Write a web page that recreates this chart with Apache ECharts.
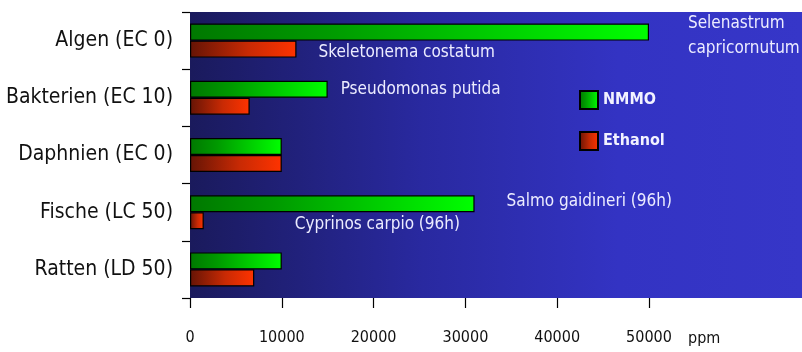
<!DOCTYPE html>
<html>
<head>
<meta charset="utf-8">
<script src="https://cdn.jsdelivr.net/npm/echarts@6/dist/echarts.min.js"></script>
<style>
  html, body { margin: 0; padding: 0; background: #ffffff; }
  #chart { width: 802px; height: 352px; }
</style>
</head>
<body>
<div id="chart"></div>
<script>
// Toxicity thresholds of NMMO and ethanol for several test organisms (ppm)
const categories = ['Algen (EC 0)', 'Bakterien (EC 10)', 'Daphnien (EC 0)', 'Fische (LC 50)', 'Ratten (LD 50)'];
const nmmoValues = [50000, 15000, 10000, 31000, 10000];
const ethanolValues = [11600, 6500, 10000, 1500, 7000];
const xTickValues = [0, 10000, 20000, 30000, 40000, 50000];
const unitLabel = 'ppm';

// Organism names written next to individual bars: [series, category index, text]
const organismNotes = [
  ['NMMO', 0, 'Selenastrum\ncapricornutum'],
  ['Ethanol', 0, 'Skeletonema costatum'],
  ['NMMO', 1, 'Pseudomonas putida'],
  ['NMMO', 3, 'Salmo gaidineri (96h)'],
  ['Ethanol', 3, 'Cyprinos carpio (96h)']
];
// label spacing for each note, same order as above
const noteLayout = [
  { distance: 39, offset: [0, 4], lineHeight: 25 },
  { distance: 22, offset: [0, 3] },
  { distance: 13, offset: [0, 0] },
  { distance: 32, offset: [0, -2] },
  { distance: 91, offset: [0, 4] }
];

const FONT = '"DejaVu Sans Condensed", "Liberation Sans", sans-serif';
const G = echarts.graphic.LinearGradient;

const greenFill = new G(0, 0, 1, 0, [
  { offset: 0, color: '#007800' },
  { offset: 0.3, color: '#009a00' },
  { offset: 1, color: '#00ff00' }
]);
const redFill = new G(0, 0, 1, 0, [
  { offset: 0, color: '#651405' },
  { offset: 0.55, color: '#c92a04' },
  { offset: 1, color: '#ff3300' }
]);

function buildData(name, values) {
  return values.map((v, i) => {
    const idx = organismNotes.findIndex(n => n[0] === name && n[1] === i);
    if (idx < 0) return v;
    const lay = noteLayout[idx];
    return {
      value: v,
      label: {
        show: true,
        position: 'right',
        formatter: organismNotes[idx][2],
        distance: lay.distance,
        offset: lay.offset,
        color: '#ececff',
        fontFamily: FONT,
        fontSize: 17,
        lineHeight: lay.lineHeight || 22,
        align: 'left'
      }
    };
  });
}

const chart = echarts.init(document.getElementById('chart'), null, { renderer: 'canvas' });

chart.setOption({
  animation: false,
  backgroundColor: '#ffffff',
  grid: {
    left: 190, right: 0, top: 12, bottom: 54,
    outerBoundsMode: 'none',
    containLabel: false,
    show: true,
    borderWidth: 0,
    backgroundColor: new G(0, 0, 1, 0, [
      { offset: 0, color: '#1a1a5c' },
      { offset: 0.38, color: '#2929a0' },
      { offset: 0.7, color: '#3333c3' },
      { offset: 1, color: '#3636c8' }
    ])
  },
  legend: {
    orient: 'vertical',
    left: 579,
    top: 90,
    padding: 0,
    icon: 'rect',
    itemWidth: 18,
    itemHeight: 18,
    itemGap: 21,
    textStyle: { color: '#f2f2ff', fontFamily: FONT, fontSize: 16, fontWeight: 'bold' },
    data: ['NMMO', 'Ethanol']
  },
  xAxis: {
    type: 'value',
    min: 0,
    max: 66667,
    interval: 10000,
    splitLine: { show: false },
    axisLine: { show: false },
    axisTick: { show: true, length: 10, customValues: xTickValues, lineStyle: { color: '#000', width: 1.2 } },
    axisLabel: {
      customValues: xTickValues,
      formatter: v => String(v),
      margin: 32,
      color: '#111',
      fontFamily: FONT,
      fontSize: 16
    }
  },
  yAxis: {
    type: 'category',
    inverse: true,
    data: categories,
    axisLine: { show: false },
    axisTick: { show: true, length: 8, lineStyle: { color: '#000', width: 1.2 } },
    axisLabel: {
      margin: 17,
      color: '#111',
      fontFamily: FONT,
      fontSize: 21
    }
  },
  graphic: [{
    type: 'text',
    left: 688,
    top: 331,
    style: { text: unitLabel, fill: '#111', font: '16px ' + FONT }
  }],
  series: [
    {
      name: 'NMMO',
      type: 'bar',
      barWidth: 17,
      barGap: '0%',
      itemStyle: { color: greenFill, borderColor: '#000', borderWidth: 1.2 },
      data: buildData('NMMO', nmmoValues)
    },
    {
      name: 'Ethanol',
      type: 'bar',
      barWidth: 17,
      barGap: '0%',
      itemStyle: { color: redFill, borderColor: '#000', borderWidth: 1.2 },
      data: buildData('Ethanol', ethanolValues)
    }
  ]
});
</script>
</body>
</html>
